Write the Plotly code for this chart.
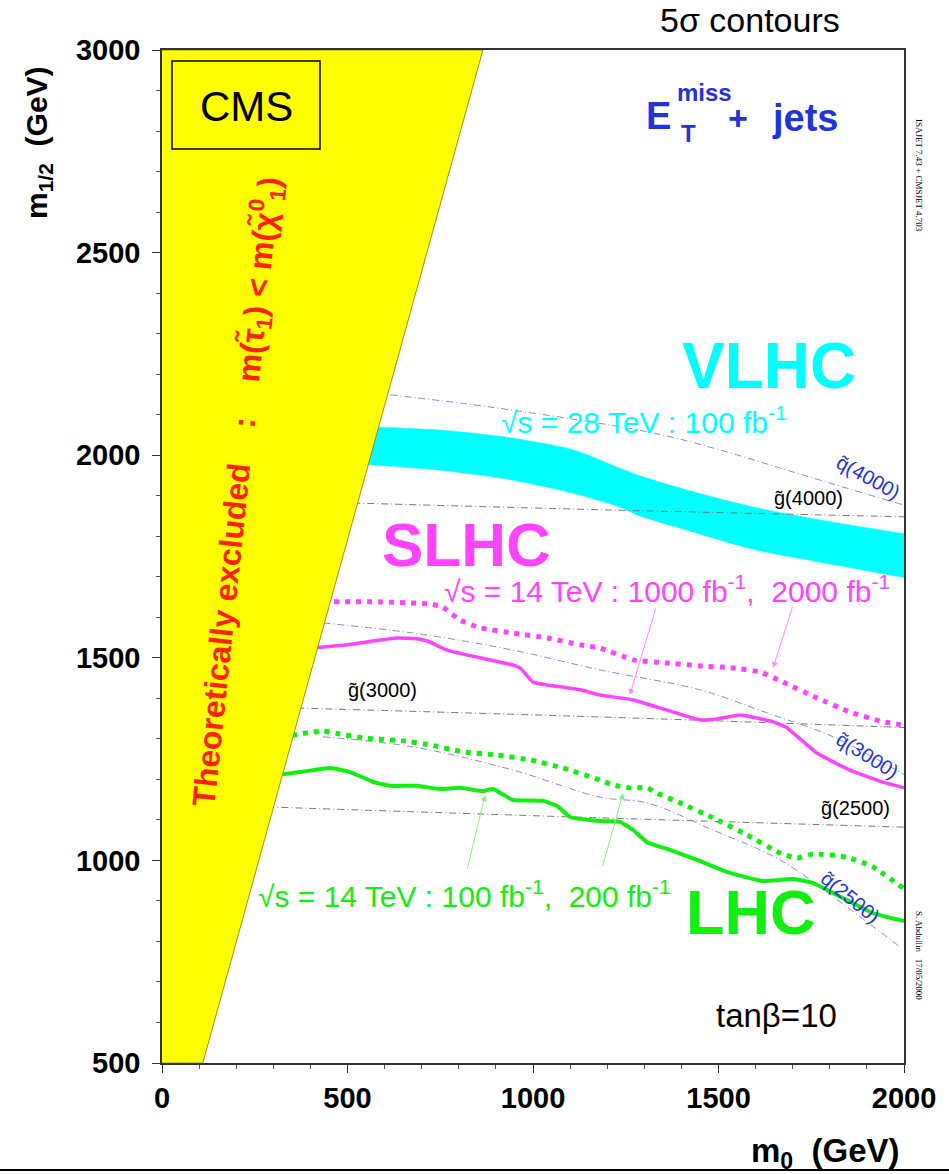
import plotly.graph_objects as go

# ---------------- data (m0, m1/2 in GeV) ----------------
excl_m0 = [0, 110, 865, 0]
excl_m12 = [500, 500, 3000, 3000]

vlhc_m0 = [500, 749, 930, 1108, 1234, 1288, 1415, 1593, 1774, 2000]
vlhc_upper = [2072, 2062, 2044, 2013, 1968, 1949, 1914, 1872, 1840, 1806]
vlhc_lower = [1980, 1963, 1941, 1906, 1872, 1850, 1815, 1768, 1736, 1698]

slhc2000_m0 = [434, 588, 722, 757, 803, 857, 946, 1038, 1127, 1181, 1270, 1361, 1450, 1539, 1612, 1674, 1765, 1854, 1943, 2000]
slhc2000_m12 = [1638, 1638, 1633, 1625, 1593, 1574, 1561, 1549, 1532, 1524, 1495, 1487, 1480, 1475, 1465, 1440, 1401, 1366, 1342, 1334]

slhc1000_m0 = [407, 499, 588, 633, 695, 722, 768, 857, 946, 965, 1000, 1038, 1127, 1181, 1270, 1361, 1450, 1496, 1558, 1647, 1685, 1765, 1854, 1943, 2000]
slhc1000_m12 = [1524, 1532, 1544, 1549, 1546, 1539, 1519, 1500, 1482, 1475, 1440, 1433, 1421, 1408, 1396, 1371, 1347, 1349, 1359, 1342, 1327, 1265, 1223, 1193, 1179]

lhc200_m0 = [350, 434, 480, 542, 650, 722, 811, 903, 992, 1081, 1181, 1216, 1261, 1307, 1334, 1396, 1485, 1577, 1666, 1712, 1755, 1846, 1916, 2000]
lhc200_m12 = [1309, 1319, 1312, 1302, 1295, 1285, 1268, 1260, 1248, 1228, 1198, 1186, 1179, 1179, 1166, 1142, 1105, 1063, 1018, 1006, 1016, 1008, 984, 930]

lhc100_m0 = [310, 372, 453, 507, 569, 615, 687, 749, 803, 865, 892, 946, 1027, 1065, 1100, 1181, 1234, 1270, 1307, 1369, 1442, 1531, 1620, 1701, 1755, 1846, 1916, 2000]
lhc100_m12 = [1211, 1218, 1228, 1218, 1194, 1184, 1184, 1176, 1179, 1171, 1176, 1149, 1147, 1134, 1107, 1097, 1095, 1075, 1045, 1026, 1001, 969, 949, 954, 944, 902, 870, 850]

# iso-mass reference lines
g4000_m0 = [515, 1199, 2000]
g4000_m12 = [1882, 1865, 1848]
g3000_m0 = [364, 1181, 2000]
g3000_m12 = [1376, 1354, 1328]
g2500_m0 = [283, 1181, 2000]
g2500_m12 = [1132, 1105, 1082]
q4000_m0 = [615, 884, 1323, 1504, 1685, 1863, 2000]
q4000_m12 = [2149, 2119, 2055, 2013, 1963, 1914, 1877]
q3000_m0 = [434, 677, 946, 1181, 1450, 1631, 1809, 2000]
q3000_m12 = [1586, 1561, 1519, 1470, 1421, 1364, 1305, 1212]
q2500_m0 = [434, 677, 946, 1181, 1307, 1485, 1666, 1846, 1990]
q2500_m12 = [1305, 1280, 1223, 1156, 1142, 1075, 1001, 885, 786]

x_ticks = [0, 500, 1000, 1500, 2000]
y_ticks = [500, 1000, 1500, 2000, 2500, 3000]

# ---------------- colours ----------------
YELLOW = "#ffff00"
CYAN = "#00ffff"
MAGENTA = "#ff44ff"
GREEN = "#11ee11"
BLUE = "#2233dd"
RED = "#ff2200"
FONT = "Liberation Sans, Arial, sans-serif"

# plot area in pixels
L, R, T, B = 162, 904, 50, 1063
W, H = 949, 1174


def pxx(p):
    return (p - L) / (R - L)


def pxy(p):
    return (B - p) / (B - T)


fig = go.Figure()

# VLHC band (lower edge, then upper edge filled down to it)
fig.add_trace(go.Scatter(x=vlhc_m0, y=vlhc_lower, mode="lines",
                         line=dict(color=CYAN, width=0.5, shape="spline", smoothing=0.8),
                         hoverinfo="skip", showlegend=False))
fig.add_trace(go.Scatter(x=vlhc_m0, y=vlhc_upper, mode="lines", fill="tonexty", fillcolor=CYAN,
                         line=dict(color=CYAN, width=0.5, shape="spline", smoothing=0.8),
                         hoverinfo="skip", showlegend=False))

# reference lines
for xs, ys, col in [(g4000_m0, g4000_m12, "#777777"), (g3000_m0, g3000_m12, "#777777"),
                    (g2500_m0, g2500_m12, "#777777"), (q4000_m0, q4000_m12, "#8a8ad8"),
                    (q3000_m0, q3000_m12, "#8a8ad8"), (q2500_m0, q2500_m12, "#8a8ad8")]:
    fig.add_trace(go.Scatter(x=xs, y=ys, mode="lines",
                             line=dict(color=col, width=1, dash="7px,3px,1px,3px", shape="spline"),
                             hoverinfo="skip", showlegend=False))

# contours
fig.add_trace(go.Scatter(x=slhc2000_m0, y=slhc2000_m12, mode="lines",
                         line=dict(color=MAGENTA, width=5, dash="5px,6px", shape="spline", smoothing=0.4),
                         showlegend=False))
fig.add_trace(go.Scatter(x=slhc1000_m0, y=slhc1000_m12, mode="lines",
                         line=dict(color=MAGENTA, width=3.5, shape="spline", smoothing=0.4),
                         showlegend=False))
fig.add_trace(go.Scatter(x=lhc200_m0, y=lhc200_m12, mode="lines",
                         line=dict(color=GREEN, width=5, dash="5px,6px", shape="spline", smoothing=0.4),
                         showlegend=False))
fig.add_trace(go.Scatter(x=lhc100_m0, y=lhc100_m12, mode="lines",
                         line=dict(color=GREEN, width=4, shape="spline", smoothing=0.4),
                         showlegend=False))

# theoretically excluded region
fig.add_trace(go.Scatter(x=excl_m0, y=excl_m12, fill="toself", fillcolor=YELLOW,
                         line=dict(color="#7a7a00", width=0.8), mode="lines",
                         hoverinfo="skip", showlegend=False))

ann = []


def text(px_, py_, s, size, color="black", bold=False, angle=0, xa="center", ya="middle", family=FONT):
    if bold:
        s = "<b>" + s + "</b>"
    ann.append(dict(x=pxx(px_), y=pxy(py_), xref="paper", yref="paper", text=s,
                    showarrow=False, font=dict(size=size, color=color, family=family),
                    textangle=angle, xanchor=xa, yanchor=ya))


NB = "\u00a0"

# titles / labels
text(750, 20, "5σ contours", 34)
text(39, 143, "m<sub>1/2</sub>" + NB * 2 + "(GeV)", 30, bold=True, angle=-90)
text(825, 1153, "m<sub>0</sub>" + NB * 2 + "(GeV)", 33, bold=True)
text(246, 106, "CMS", 42)

# E_T^miss + jets
text(658, 116, "E", 38, color=BLUE, bold=True)
text(704, 92, "miss", 24, color=BLUE, bold=True)
text(688, 133, "T", 24, color=BLUE, bold=True)
text(738, 118, "+", 34, color=BLUE, bold=True)
text(805, 118, "jets", 38, color=BLUE, bold=True)

text(769, 366, "VLHC", 64, color=CYAN, bold=True)
text(466, 544, "SLHC", 62, color=MAGENTA, bold=True)
text(750, 912, "LHC", 63, color=GREEN, bold=True)

text(499, 420, "√s = 28 TeV : 100 fb<sup>-1</sup>", 30, color=CYAN, xa="left")
text(442, 589, "√s = 14 TeV : 1000 fb<sup>-1</sup>," + NB * 2 + "2000 fb<sup>-1</sup>", 30, color=MAGENTA, xa="left")
text(256, 894, "√s = 14 TeV : 100 fb<sup>-1</sup>," + NB * 2 + "200 fb<sup>-1</sup>", 30, color=GREEN, xa="left")

text(382, 690, "g̃(3000)", 20)
text(808, 498, "g̃(4000)", 20)
text(855, 808, "g̃(2500)", 20)
text(868, 477, "q̃(4000)", 20, color=BLUE, angle=29)
text(867, 755, "q̃(3000)", 20, color=BLUE, angle=32)
text(850, 897, "q̃(2500)", 20, color=BLUE, angle=39)

text(776, 1015, "tanβ=10", 33)

text(236, 492, "Theoretically excluded" + NB * 4 + ":" + NB * 4 +
     "m(τ̃<sub>1</sub>) &lt; m(χ̃<sup>0</sup><sub>1</sub>)",
     32, color=RED, bold=True, angle=-84)

text(919, 175, "ISAJET 7.43 + CMSJET 4.703", 9, angle=90, family="Liberation Serif, serif")
text(919, 955, "S. Abdullin" + NB * 3 + "17/05/2000", 9, angle=90, family="Liberation Serif, serif")

# arrows
for hx, hy, tx, ty, col in [(1261, 1408, 1332, 1625, "#ff88ff"), (1647, 1475, 1701, 1630, "#ff88ff"),
                            (871, 1161, 822, 976, "#88ee88"), (1243, 1166, 1186, 981, "#88ee88")]:
    ann.append(dict(x=hx, y=hy, ax=tx, ay=ty, xref="x", yref="y", axref="x", ayref="y",
                    text="", showarrow=True, arrowhead=2, arrowsize=1.2, arrowwidth=1, arrowcolor=col))

shapes = [
    dict(type="rect", xref="paper", yref="paper", x0=pxx(172), x1=pxx(320), y0=pxy(149), y1=pxy(61),
         line=dict(color="black", width=1.5)),
    dict(type="line", xref="paper", yref="paper", x0=pxx(0), x1=pxx(949), y0=pxy(1170), y1=pxy(1170),
         line=dict(color="black", width=2)),
]

fig.update_layout(
    width=W, height=H,
    margin=dict(l=L, r=W - R, t=T, b=H - B),
    paper_bgcolor="white", plot_bgcolor="white",
    annotations=ann, shapes=shapes,
    font=dict(family=FONT, color="black"),
    xaxis=dict(range=[0, 2000], tickvals=x_ticks, ticktext=["<b>%d</b>" % v for v in x_ticks],
               ticks="outside", ticklen=8, tickwidth=1.2, tickcolor="#333",
               minor=dict(dtick=100, ticks="outside", ticklen=4, tickcolor="#555"),
               showline=True, linecolor="#333", linewidth=1.5, mirror=True,
               showgrid=False, zeroline=False, tickfont=dict(size=29, color="black")),
    yaxis=dict(range=[500, 3000], tickvals=y_ticks, ticktext=["<b>%d</b>" % v for v in y_ticks],
               ticks="outside", ticklen=8, tickwidth=1.2, tickcolor="#333",
               minor=dict(dtick=100, ticks="outside", ticklen=4, tickcolor="#555"),
               showline=True, linecolor="#333", linewidth=1.5, mirror=True, ticklabelstandoff=6,
               showgrid=False, zeroline=False, tickfont=dict(size=29, color="black")),
)

fig.write_html("out.html")
